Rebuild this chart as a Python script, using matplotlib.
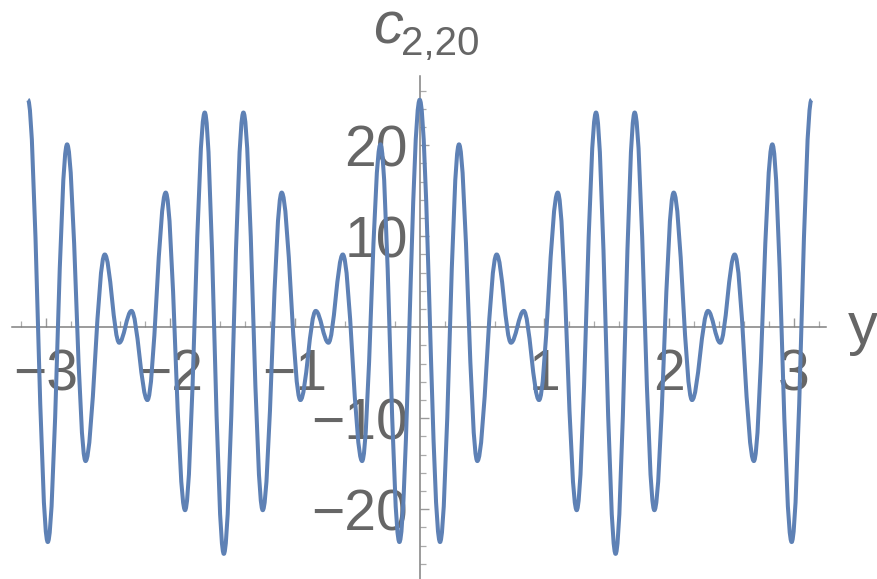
import numpy as np
import matplotlib.pyplot as plt
from matplotlib.path import Path
from matplotlib.patches import PathPatch

# ==========================================
# Data: extrema of c_{2,20}(y)
# ==========================================

ext_y = [-3.142, -2.983, -2.828, -2.680, -2.526, -2.410, -2.312, -2.184,
         -2.037, -1.882, -1.724, -1.571, -1.414, -1.259, -1.107, -0.957,
         -0.834, -0.732, -0.617, -0.462, -0.315, -0.163, 0.000, 0.163,
         0.315, 0.462, 0.617, 0.732, 0.834, 0.957, 1.107, 1.259, 1.414,
         1.571, 1.724, 1.882, 2.037, 2.184, 2.312, 2.410, 2.526, 2.680,
         2.828, 2.983, 3.142]

ext_c = [25.0, -23.6, 20.1, -14.7, 8.0, -1.7, 1.8, -8.0,
         14.8, -20.1, 23.6, -24.9, 23.6, -20.1, 14.8, -8.0,
         1.8, -1.7, 8.0, -14.7, 20.1, -23.6, 25.0, -23.6,
         20.1, -14.7, 8.0, -1.7, 1.8, -8.0, 14.8, -20.1, 23.6,
         -24.9, 23.6, -20.1, 14.8, -8.0, 1.8, -1.7, 8.0, -14.7,
         20.1, -23.6, 25.0]

x_major = [-3, -2, -1, 1, 2, 3]
x_labels = ["\u22123", "\u22122", "\u22121", "1", "2", "3"]
y_major = [-20, -10, 10, 20]
y_labels = ["\u221220", "\u221210", "10", "20"]

LINE = "#5E81B5"
TEXT = "#666666"
AXIS = "#808080"

plt.rcParams["font.family"] = ["Liberation Sans", "DejaVu Sans"]

# ==========================================
# Figure / axes
# ==========================================

W, H = 877, 579
fig = plt.figure(figsize=(W / 100, H / 100), dpi=100)
ax = fig.add_axes([12 / W, 0, (826.2 - 12) / W, 1 - 76.1 / H])
ax.set_xlim(-3.27, 3.26)
ax.set_ylim(-27.66, 27.6)

# ==========================================
# Curve: smooth bezier between extrema
# ==========================================

k = 0.3634
verts = [(ext_y[0], ext_c[0])]
codes = [Path.MOVETO]
for i in range(1, len(ext_y)):
    x0, y0 = ext_y[i - 1], ext_c[i - 1]
    x1, y1 = ext_y[i], ext_c[i]
    dx = x1 - x0
    verts += [(x0 + k * dx, y0), (x1 - k * dx, y1), (x1, y1)]
    codes += [Path.CURVE4] * 3

curve = PathPatch(Path(verts, codes), facecolor="none", edgecolor=LINE,
                  linewidth=2.9, capstyle="butt", joinstyle="round",
                  zorder=3, clip_on=False)
ax.add_patch(curve)

# ==========================================
# Axes styling
# ==========================================

for s in ["top", "right"]:
    ax.spines[s].set_visible(False)
for s in ["left", "bottom"]:
    ax.spines[s].set_position(("data", 0))
    ax.spines[s].set_color(AXIS)
    ax.spines[s].set_linewidth(1.1)

ax.set_xticks(x_major)
ax.set_xticklabels(x_labels)
ax.set_xticks([v / 10 for v in range(-32, 33, 2) if v % 10 != 0], minor=True)
ax.set_yticks(y_major)
ax.set_yticklabels(y_labels)
ax.set_yticks([v for v in range(-26, 27, 2) if v % 10 != 0], minor=True)

ax.tick_params(which="major", direction="in", length=6.5, width=1,
               color="#999999", labelcolor=TEXT, labelsize=41)
ax.tick_params(which="minor", direction="in", length=4.3, width=0.9,
               color="#aaaaaa")
ax.tick_params(axis="x", which="major", pad=15)
ax.tick_params(axis="y", which="major", pad=8.4)

# axis labels
fig.text(373 / W, 1 - 43 / H, "c", fontsize=43, style="italic",
         color=TEXT, ha="left", va="baseline")
fig.text(401 / W, 1 - 55 / H, "2,20", fontsize=29, color=TEXT,
         ha="left", va="baseline")
fig.text(848 / W, 1 - 344 / H, "y", fontsize=43, color=TEXT,
         ha="left", va="baseline")

fig.savefig("out.png", dpi=100)
plt.close()
